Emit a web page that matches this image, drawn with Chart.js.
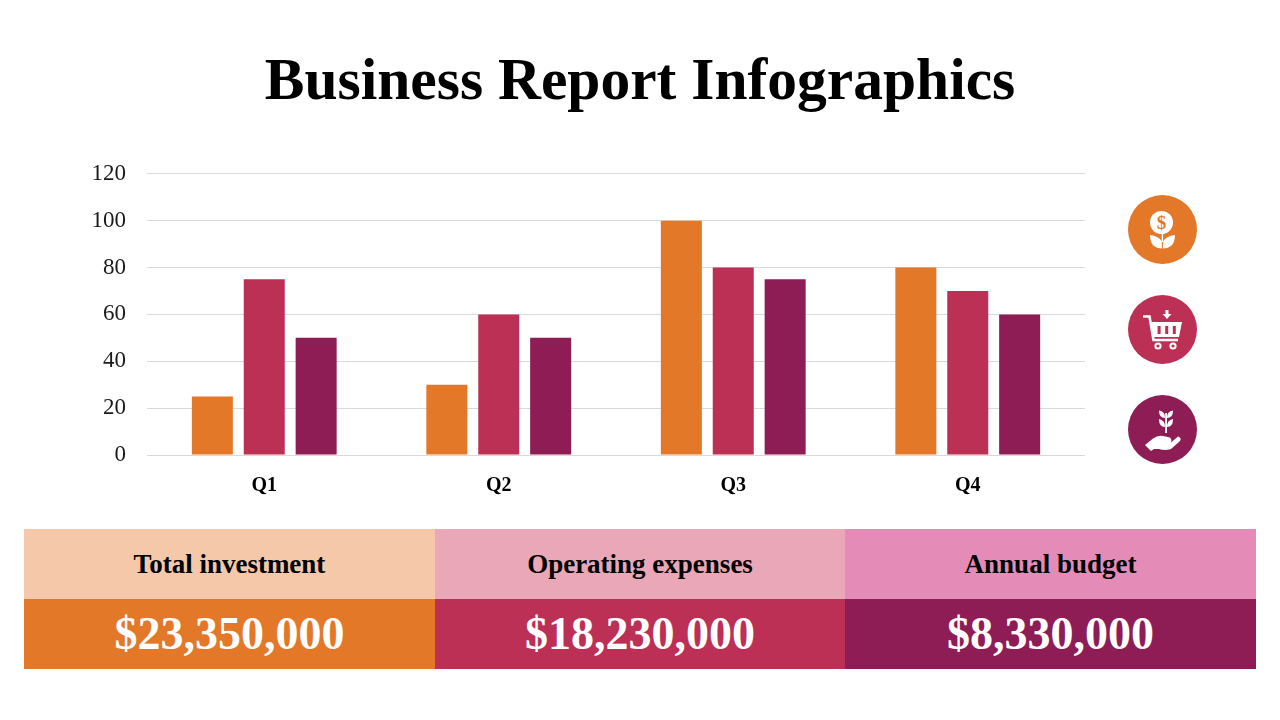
<!DOCTYPE html>
<html>
<head>
<meta charset="utf-8">
<script src="https://cdn.jsdelivr.net/npm/chart.js@4"></script>
<style>
  html, body { margin: 0; padding: 0; background: #fff; }
  body { width: 1280px; height: 720px; position: relative; overflow: hidden; font-family: "Liberation Serif", serif; }
  h1 { position: absolute; left: 0; top: 40px; width: 1280px; margin: 0; text-align: center; font-size: 59.5px; line-height: 78px; font-weight: bold; color: #000; }
  #wrap { position: absolute; left: 80px; top: 139px; width: 1005px; height: 361px; }
  .icon { position: absolute; left: 1128px; width: 69px; height: 69px; }
  .cell { position: absolute; height: 70px; line-height: 70px; text-align: center; }
  .head { top: 529px; font-size: 27px; font-weight: bold; color: #000; }
  .amount { top: 599px; font-size: 46px; font-weight: bold; color: #fff; }
</style>
</head>
<body>
<h1>Business Report Infographics</h1>
<div id="wrap"><canvas id="chart"></canvas></div>

<svg class="icon" style="top:195px" viewBox="0 0 69 69">
  <circle cx="34.5" cy="34.5" r="34.5" fill="#e27828"/>
  <circle cx="33.5" cy="27.5" r="11.5" fill="#fff"/>
  <text x="33.5" y="34" text-anchor="middle" font-size="19" font-weight="bold" font-family="Liberation Serif" fill="#e27828">$</text>
  <rect x="33.7" y="38" width="1.4" height="9" fill="#fff"/>
  <path d="M22 40 Q31 41 34.4 47 Q38 41 47 40 Q47 53.5 34.4 53.5 Q22 53.5 22 40 Z" fill="#fff"/>
  <rect x="33.9" y="47" width="1" height="7" fill="#e27828"/>
</svg>
<svg class="icon" style="top:295px" viewBox="0 0 69 69">
  <circle cx="34.5" cy="34.5" r="34.5" fill="#bb3054"/>
  <path d="M15 21.5 H21.5 L25.5 45 H50" fill="none" stroke="#fff" stroke-width="2.6"/>
  <path d="M23 27 H54 L51 42 H26 Z" fill="#fff"/>
  <rect x="29.6" y="31" width="3" height="8" fill="#bb3054"/>
  <rect x="37.2" y="31" width="3" height="8" fill="#bb3054"/>
  <rect x="44.8" y="31" width="3" height="8" fill="#bb3054"/>
  <circle cx="30" cy="51" r="2.6" fill="#bb3054" stroke="#fff" stroke-width="2"/>
  <circle cx="45" cy="51" r="2.6" fill="#bb3054" stroke="#fff" stroke-width="2"/>
  <path d="M37.5 15 H40.5 V19 H43.5 L39 24 L34.5 19 H37.5 Z" fill="#fff"/>
</svg>
<svg class="icon" style="top:395px" viewBox="0 0 69 69">
  <circle cx="34.5" cy="34.5" r="34.5" fill="#8d1d54"/>
  <rect x="37.2" y="18" width="1.8" height="20" fill="#fff"/>
  <path d="M37 23 Q31 23 31 15.5 Q37 16 37 23 Z M39 23 Q45 23 45 15.5 Q39 16 39 23 Z M37 32 Q31 32 31 24 Q37 25 37 32 Z M39 32 Q45 32 45 24 Q39 25 39 32 Z" fill="#fff"/>
  <path d="M17 50 L25 43.5 Q30 40 35 41 L42 42.5 Q45 46 42 48 L37 48 L43 47.5 L50 41.5 Q54 42.5 52 46 L43 54 Q37 56 31 54 L26 54 L23 56 Z" fill="#fff"/>
</svg>

<div class="cell head" style="left:24px;width:411px;background:#f4c8a8">Total investment</div>
<div class="cell head" style="left:435px;width:410px;background:#e9a7b8">Operating expenses</div>
<div class="cell head" style="left:845px;width:411px;background:#e58bb7">Annual budget</div>
<div class="cell amount" style="left:24px;width:411px;background:#e27828">$23,350,000</div>
<div class="cell amount" style="left:435px;width:410px;background:#bb3054">$18,230,000</div>
<div class="cell amount" style="left:845px;width:411px;background:#8d1d54">$8,330,000</div>

<script>
const quarters = ["Q1", "Q2", "Q3", "Q4"]
const investment = [25, 30, 100, 80]
const expenses = [75, 60, 80, 70]
const budget = [50, 50, 75, 60]

const barOpts = { categoryPercentage: 0.664, barPercentage: 0.79, borderWidth: 0 }

new Chart(document.getElementById("chart").getContext("2d"), {
  type: "bar",
  data: {
    labels: quarters,
    datasets: [
      { label: "Total investment", data: investment, backgroundColor: "#e27828", ...barOpts },
      { label: "Operating expenses", data: expenses, backgroundColor: "#bb3054", ...barOpts },
      { label: "Annual budget", data: budget, backgroundColor: "#8d1d54", ...barOpts },
    ],
  },
  options: {
    responsive: true,
    maintainAspectRatio: false,
    animation: false,
    layout: { padding: { top: 13, right: 0, bottom: 0, left: 0 } },
    plugins: { legend: { display: false }, tooltip: { enabled: false } },
    scales: {
      x: {
        afterFit: (axis) => { axis.height = 45 },
        grid: { display: false, drawTicks: false },
        border: { color: "#d9d9d9", width: 1 },
        ticks: { color: "#000", padding: 19, font: { family: "Liberation Serif", size: 20, weight: "bold" } },
      },
      y: {
        min: 0,
        max: 120,
        afterFit: (axis) => { axis.width = 67 },
        grid: { color: "#d9d9d9", lineWidth: 1, drawTicks: false },
        border: { display: false },
        ticks: { stepSize: 20, color: "#1a1a1a", padding: 21, font: { family: "Liberation Serif", size: 23 } },
      },
    },
  },
})
</script>
</body>
</html>
